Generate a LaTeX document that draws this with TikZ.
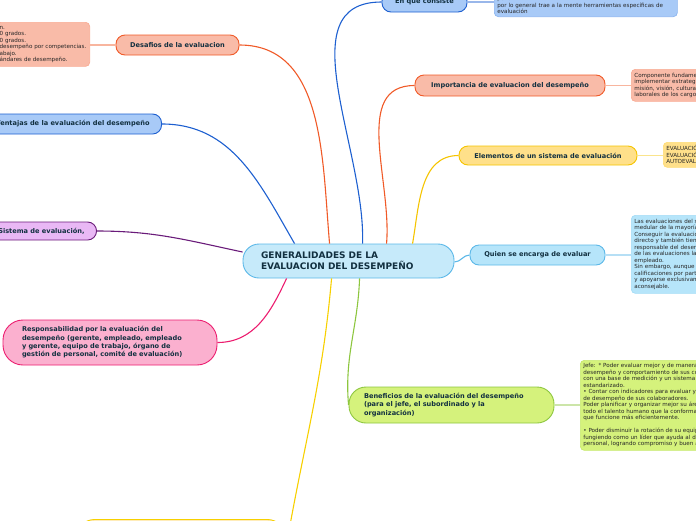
\documentclass[tikz,border=0pt]{standalone}
\usepackage{fontspec}
\setmainfont{DejaVu Sans}
\usepackage{xcolor}
\definecolor{mmtext}{HTML}{123040}
\definecolor{mmnote}{HTML}{262626}
\definecolor{mmblue}{HTML}{1D5FD0}
\definecolor{mmorange}{HTML}{F05A28}
\definecolor{mmyellow}{HTML}{F5C400}
\definecolor{mmsky}{HTML}{5CB8E8}
\definecolor{mmgreen}{HTML}{8DC63F}
\definecolor{mmpink}{HTML}{EC1D6F}
\definecolor{mmpurple}{HTML}{6A1B7A}
\definecolor{fillcentre}{HTML}{C6EAFA}
\definecolor{fillblue}{HTML}{A8CAF7}
\definecolor{fillsalmon}{HTML}{F9BBA8}
\definecolor{fillyellow}{HTML}{FFE08A}
\definecolor{fillsky}{HTML}{B6E5FA}
\definecolor{filllime}{HTML}{D5F27C}
\definecolor{fillpink}{HTML}{FBB0CF}
\definecolor{fillviolet}{HTML}{E9B8F5}
\usepackage{tikz}
\usetikzlibrary{positioning,calc}
\newcommand{\labelfont}{\bfseries\fontsize{6.6}{8.3}\selectfont}
\newcommand{\notefont}{\fontsize{5.6}{6.5}\selectfont}

\begin{document}
\begin{tikzpicture}[x=1pt,y=-1pt]
\tikzset{
 topic/.style args={#1/#2}{draw=#1,fill=#2,line width=0.9pt,rounded corners=9pt,font=\labelfont,text=mmtext,inner sep=0pt,minimum height=20pt},
 note/.style args={#1/#2}{draw=#1,fill=#2,line width=0.7pt,rounded corners=4pt,font=\notefont,text=mmnote,align=left,inner xsep=3pt,inner ysep=3pt},
 branch/.style={draw=#1,line width=1.1pt},
 link/.style={draw=#1!45!white,line width=1.4pt}
}
\useasboundingbox (0,0) rectangle (696,520);
\clip (0,0) rectangle (696,520);

% central topic
\node[topic=mmsky/fillcentre,rounded corners=16pt,minimum width=211pt,minimum height=34pt,
 text width=175pt,align=left,font=\bfseries\fontsize{9}{11}\selectfont] (gen) at (348.5,261)
 {GENERALIDADES DE LA\\EVALUACION DEL DESEMPEÑO};

% right side topics
\node[topic=mmblue/fillblue,minimum width=85pt] (enq) at (424.5,2) {En que consiste};
\node[topic=mmorange/fillsalmon,minimum width=190pt,minimum height=21pt] (imp) at (510,85.5) {Importancia de evaluacion del desempeño};
\node[topic=mmyellow/fillyellow,minimum width=178pt,minimum height=19pt] (ele) at (548,155.5) {Elementos de un sistema de evaluación};
\node[topic=mmsky/fillsky,minimum width=135pt] (qui) at (537.5,255) {Quien se encarga de evaluar};
\node[topic=mmgreen/filllime,rounded corners=17pt,minimum width=205pt,minimum height=36pt,
 text width=175pt,align=left] (ben) at (451.5,405)
 {Beneficios de la evaluación del desempeño\\(para el jefe, el subordinado y la\\organización)};

% left side topics
\node[topic=mmorange/fillsalmon,minimum width=123pt] (des) at (177.5,45) {Desafios de la evaluacion};
\node[topic=mmblue/fillblue,anchor=east,inner xsep=12pt] (ven) at (162,124) {Ventajas de la evaluación del desempeño};
\node[topic=mmpurple/fillviolet,anchor=east,inner xsep=12pt,minimum height=18pt] (sis) at (97,231) {Sistema de evaluación,};
\node[topic=mmpink/fillpink,rounded corners=20pt,minimum width=214pt,minimum height=45pt,
 text width=176pt,align=left] (res) at (110,342.5)
 {Responsabilidad por la evaluación del\\desempeño (gerente, empleado, empleado\\y gerente, equipo de trabajo, órgano de\\gestión de personal, comité de evaluación)};
\node[topic=mmyellow/fillyellow!60!white,draw=mmyellow!80!yellow,rounded corners=20pt,minimum width=212pt,minimum height=40pt,anchor=north] (bot) at (181,519) {};

% notes
\node[note=fillblue!80!mmblue/fillblue,anchor=south west,text width=177pt] (enqn) at (494,17)
 {Realizan con sus colaboradores, aunque evaluar el desempeño\\por lo general trae a la mente herramientas específicas de\\evaluación};
\node[note=fillsalmon!85!mmorange/fillsalmon,anchor=north west,text width=120pt,minimum height=32pt] (impn) at (631,69)
 {Componente fundamental para\\implementar estrategias de la\\misión, visión, cultura y valores\\laborales de los cargos.};
\node[note=fillyellow!85!mmyellow/fillyellow,anchor=north west,text width=100pt,minimum height=25pt] (elen) at (663,142)
 {EVALUACIÓN 360 GRADOS\\EVALUACIÓN 180 GRADOS\\AUTOEVALUACIÓN};
\node[note=fillsky!80!mmsky/fillsky,anchor=north west,text width=120pt,minimum height=78pt] (quin) at (631,215)
 {Las evaluaciones del supervisor son\\medular de la mayoría de sistemas.\\Conseguir la evaluación del jefe\\directo y también tiene sentido\\responsable del desempeño\\de las evaluaciones las realice el\\empleado.\\Sin embargo, aunque el jefe\\calificaciones por parte de\\y apoyarse exclusivamente en\\aconsejable.};
\node[note=filllime!80!mmgreen/filllime,anchor=north west,text width=160pt,minimum height=90pt] (benn) at (580,360)
 {Jefe: * Poder evaluar mejor y de manera objetiva el\\desempeño y comportamiento de sus colaboradores\\con una base de medición y un sistema\\estandarizado.\\• Contar con indicadores para evaluar y mejorar\\de desempeño de sus colaboradores.\\Poder planificar y organizar mejor su área con\\todo el talento humano que la conforma para\\que funcione más eficientemente.\\[6.5pt]• Poder disminuir la rotación de su equipo\\fungiendo como un líder que ayuda al desarrollo\\personal, logrando compromiso y buen ambiente.};
\node[note=fillsalmon!85!mmorange/fillsalmon,anchor=north east,text width=87pt,minimum height=44pt] (desn) at (90,22)
 {n.\\0 grados.\\0 grados.\\desempeño por competencias.\\abajo.\\ándares de desempeño.};

% branches
\draw[branch=mmorange] ($(gen.north west)+(87,0)$) to[out=95,in=0] (des.east);
\draw[branch=mmblue] ($(gen.north west)+(52,0)$) to[out=120,in=0] (ven.east);
\draw[branch=mmblue] ($(gen.north west)+(120,0)$) to[out=88,in=180] (enq.west);
\draw[branch=mmorange] ($(gen.north west)+(144,0)$) to[out=85,in=180] (imp.west);
\draw[branch=mmyellow] ($(gen.north west)+(170,0)$) to[out=80,in=180] (ele.west);
\draw[branch=mmsky] ($(gen.east)+(0,1)$) to[out=0,in=180] (qui.west);
\draw[branch=mmgreen] ($(gen.south west)+(117,0)$) to[out=-92,in=95] (ben.west);
\draw[branch=mmpink] ($(gen.south west)+(44,0)$) to[out=-115,in=0] (res.east);
\draw[branch=mmpurple] ($(gen.west)+(0,-9)$) to[out=168,in=0] (sis.east);
\draw[branch=mmyellow!80!yellow] ($(gen.south west)+(89,0)$) to[out=-95,in=80] (bot.east);

% topic to note
\draw[link=mmblue] (enq.east) -- (enq.east -| enqn.west);
\draw[link=mmorange] (imp.east) -- (imp.east -| impn.west);
\draw[link=mmyellow] (ele.east) -- (ele.east -| elen.west);
\draw[link=mmsky] (qui.east) -- (qui.east -| quin.west);
\draw[link=mmgreen] (ben.east) -- (ben.east -| benn.west);
\draw[link=mmorange] (des.west) -- (des.west -| desn.east);
\end{tikzpicture}
\end{document}
